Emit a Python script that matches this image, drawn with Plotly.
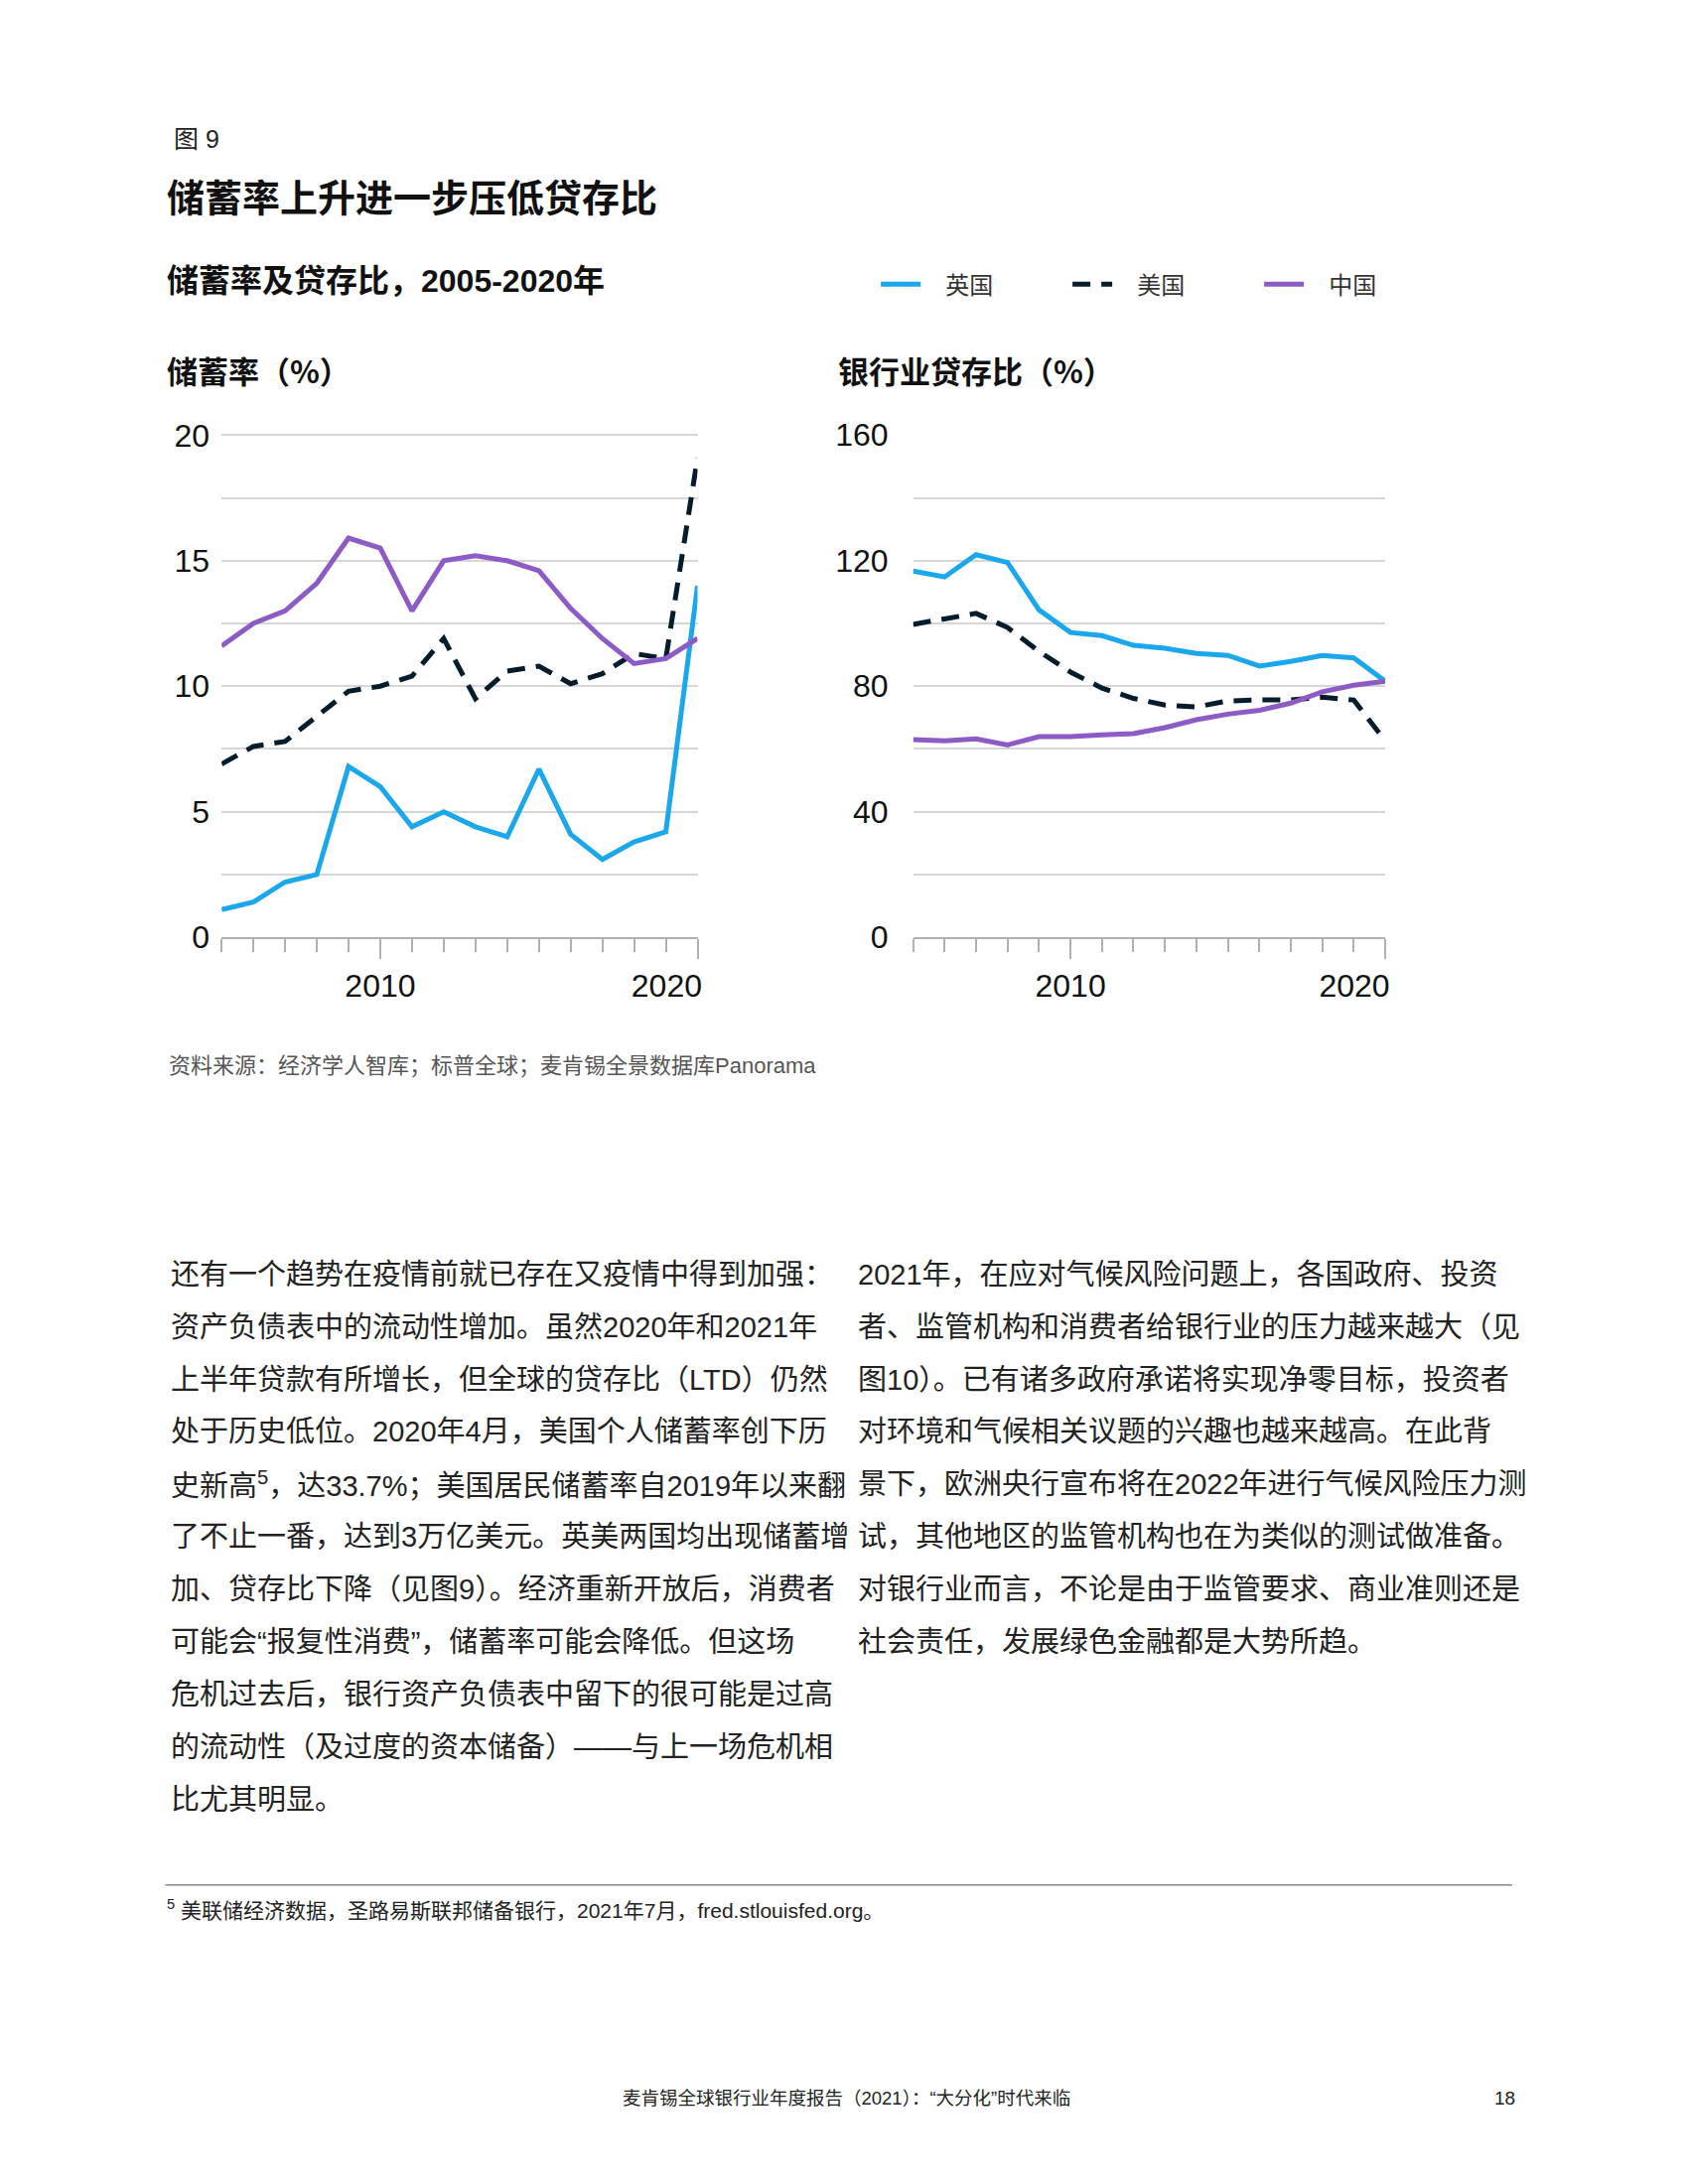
import plotly.graph_objects as go

# ---------------- data ----------------
years = list(range(2005, 2021))
series_names = ["英国", "美国", "中国"]

uk_savings = [1.1, 1.4, 2.2, 2.5, 6.8, 6.0, 4.4, 5.0, 4.4, 4.0, 6.7, 4.1, 3.1, 3.8, 4.2, 14.0]
us_savings = [6.9, 7.6, 7.8, 8.8, 9.8, 10.0, 10.4, 11.9, 9.5, 10.6, 10.8, 10.1, 10.5, 11.3, 11.1, 19.1]
cn_savings = [11.6, 12.5, 13.0, 14.1, 15.9, 15.5, 13.0, 15.0, 15.2, 15.0, 14.6, 13.1, 11.9, 10.9, 11.1, 11.9]

uk_ltd = [116.7, 114.8, 121.9, 119.4, 104.3, 97.1, 96.1, 93.0, 92.1, 90.4, 89.8, 86.4, 87.9, 89.8, 89.0, 81.6]
us_ltd = [99.7, 101.4, 103.2, 98.7, 91.1, 84.5, 79.4, 76.1, 74.0, 73.4, 75.3, 75.6, 75.6, 76.5, 75.6, 62.6]
cn_ltd = [63.0, 62.6, 63.2, 61.3, 63.9, 63.9, 64.5, 64.9, 66.8, 69.3, 71.1, 72.3, 74.6, 78.2, 80.3, 81.6]

savings_tickvals = [0, 2.5, 5, 7.5, 10, 12.5, 15, 17.5, 20]
savings_ticktext = ["0", "", "5", "", "10", "", "15", "", "20"]
ltd_tickvals = [0, 20, 40, 60, 80, 100, 120, 140, 160]
ltd_ticktext = ["0", "", "40", "", "80", "", "120", "", "160"]
year_tickvals = [2010, 2020]
year_ticktext = ["2010", "2020"]

# ---------------- text ----------------
fig_label = "图 9"
title_text = "储蓄率上升进一步压低贷存比"
subtitle_text = "储蓄率及贷存比，2005-2020年"
left_title = "储蓄率（%）"
right_title = "银行业贷存比（%）"
source_text = "资料来源：经济学人智库；标普全球；麦肯锡全景数据库Panorama"
left_lines = [
    "还有一个趋势在疫情前就已存在又疫情中得到加强：",
    "资产负债表中的流动性增加。虽然2020年和2021年",
    "上半年贷款有所增长，但全球的贷存比（LTD）仍然",
    "处于历史低位。2020年4月，美国个人储蓄率创下历",
    "史新高<sup>5</sup>，达33.7%；美国居民储蓄率自2019年以来翻",
    "了不止一番，达到3万亿美元。英美两国均出现储蓄增",
    "加、贷存比下降（见图9）。经济重新开放后，消费者",
    "可能会“报复性消费”，储蓄率可能会降低。但这场",
    "危机过去后，银行资产负债表中留下的很可能是过高",
    "的流动性（及过度的资本储备）——与上一场危机相",
    "比尤其明显。",
]
right_lines = [
    "2021年，在应对气候风险问题上，各国政府、投资",
    "者、监管机构和消费者给银行业的压力越来越大（见",
    "图10）。已有诸多政府承诺将实现净零目标，投资者",
    "对环境和气候相关议题的兴趣也越来越高。在此背",
    "景下，欧洲央行宣布将在2022年进行气候风险压力测",
    "试，其他地区的监管机构也在为类似的测试做准备。",
    "对银行业而言，不论是由于监管要求、商业准则还是",
    "社会责任，发展绿色金融都是大势所趋。",
]
footnote_text = "<sup>5</sup> 美联储经济数据，圣路易斯联邦储备银行，2021年7月，fred.stlouisfed.org。"
footer_text = "麦肯锡全球银行业年度报告（2021）：“大分化”时代来临"
page_no = "18"

# ---------------- style ----------------
W, H = 1700, 2200
OFF = 8  # default page body margin
FONT = "Liberation Sans, Noto Sans CJK SC, sans-serif"
CJK = "Noto Sans CJK SC, Liberation Sans, sans-serif"
colors = ["#1aa7ec", "#051c2c", "#8c5bc6"]
dashes = ["solid", "18px,11px", "solid"]
LW = 5
GRID = "#d6d6d6"
AXIS = "#b0b0b0"
NBSP = "\u00a0"


def px(xp):
    return (xp - OFF) / W


def py(yp):
    return 1 - (yp - OFF) / H


fig = go.Figure()

left_data = [uk_savings, us_savings, cn_savings]
right_data = [uk_ltd, us_ltd, cn_ltd]
for i, name in enumerate(series_names):
    fig.add_trace(go.Scatter(
        x=years, y=left_data[i], mode="lines", name=NBSP * 3 + name,
        line=dict(color=colors[i], width=LW, dash=dashes[i]),
        xaxis="x", yaxis="y", showlegend=True, hoverinfo="skip"))
for i, name in enumerate(series_names):
    fig.add_trace(go.Scatter(
        x=years, y=right_data[i], mode="lines", name=name,
        line=dict(color=colors[i], width=LW, dash=dashes[i]),
        xaxis="x2", yaxis="y2", showlegend=False, hoverinfo="skip"))

xdom_l = [px(232), px(731)]
xdom_r = [px(957), px(1452)]
ydom = [py(942), py(427)]

year_labels = [t if t != "2020" else t + NBSP * 7 for t in year_ticktext]


def xaxis_cfg(dom, anchor):
    return dict(
        domain=dom, anchor=anchor, range=[2005, 2020],
        tickvals=year_tickvals, ticktext=year_labels,
        ticks="outside", ticklen=20, tickwidth=1.5, tickcolor=AXIS,
        showline=True, linecolor=AXIS, linewidth=1.5,
        showgrid=False, zeroline=False,
        tickfont=dict(family=FONT, size=32, color="#111"),
        minor=dict(dtick=1, tick0=2005, ticks="outside", ticklen=13,
                   tickwidth=1.5, tickcolor=AXIS, showgrid=False),
        fixedrange=True,
    )


def yaxis_cfg(dom, anchor, rng, tv, tt, standoff):
    return dict(
        domain=dom, anchor=anchor, range=rng,
        tickvals=tv, ticktext=tt, ticks="",
        showgrid=True, gridcolor=GRID, gridwidth=1.5,
        zeroline=False, showline=False,
        tickfont=dict(family=FONT, size=32, color="#111"),
        ticklabelstandoff=standoff,
        fixedrange=True,
    )


fig.update_layout(
    width=W, height=H,
    margin=dict(l=0, r=0, t=0, b=0),
    paper_bgcolor="white", plot_bgcolor="white",
    font=dict(family=CJK, color="#222"),
    xaxis=xaxis_cfg(xdom_l, "y"),
    yaxis=yaxis_cfg(ydom, "x", [0, 20.04], savings_tickvals, savings_ticktext, 11),
    xaxis2=xaxis_cfg(xdom_r, "y2"),
    yaxis2=yaxis_cfg(ydom, "x2", [0, 160.3], ltd_tickvals, ltd_ticktext, 24),
    legend=dict(
        orientation="h", x=px(918), y=py(274), xanchor="left", yanchor="middle",
        font=dict(family=FONT, size=24, color="#333"),
        entrywidth=138, entrywidthmode="pixels", itemwidth=40,
        bgcolor="rgba(0,0,0,0)", traceorder="normal",
    ),
    hovermode=False,
)

ann = []


def add_text(text, x, y, size, bold=False, color="#222", xanchor="left", family=CJK):
    ann.append(dict(
        text=("<b>%s</b>" % text) if bold else text,
        x=px(x), y=py(y), xref="paper", yref="paper",
        xanchor=xanchor, yanchor="middle", showarrow=False,
        font=dict(family=family, size=size, color=color)))


add_text(fig_label, 180, 125, 25, color="#222", family=FONT)
add_text(title_text, 173, 182, 38, bold=True, color="#111")
add_text(subtitle_text, 173, 270, 32, bold=True, color="#111", family=FONT)
add_text(left_title, 173, 361, 31, bold=True, color="#111")
add_text(right_title, 876, 361, 31, bold=True, color="#111")
add_text(source_text, 175, 1073, 22, color="#555", family=FONT)

for i, line in enumerate(left_lines):
    add_text(line, 177, 1287 + 53.8 * i, 29, color="#222", family=FONT)
for i, line in enumerate(right_lines):
    add_text(line, 897, 1287 + 53.8 * i, 29, color="#222", family=FONT)

add_text(footnote_text, 173, 1937, 21, color="#222", family=FONT)
add_text(footer_text, 887, 2130, 18.5, color="#222", xanchor="center", family=FONT)
add_text(page_no, 1590, 2130, 19, color="#222", xanchor="right", family=FONT)

fig.update_layout(annotations=ann)

fig.add_shape(type="line", xref="paper", yref="paper",
              x0=px(173), x1=px(1585), y0=py(1912), y1=py(1912),
              line=dict(color="#888", width=1.5))

fig.write_html("out.html")
